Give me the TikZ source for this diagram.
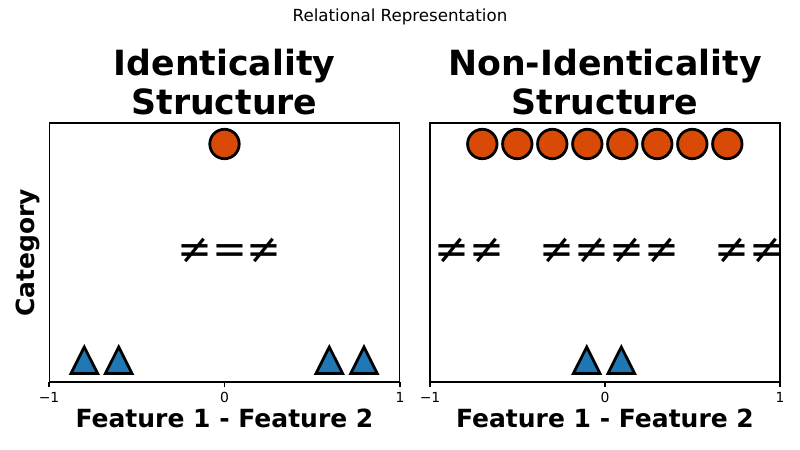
\documentclass[tikz,border=0pt]{standalone}
\usepackage{fontspec}
\setmainfont{DejaVu Sans}
\usetikzlibrary{positioning}

\definecolor{dotorange}{HTML}{D84A05}
\definecolor{triblue}{HTML}{1F77B4}

\begin{document}
\begin{tikzpicture}[
  x=0.72pt,y=-0.72pt,
  panel/.style={draw,line width=0.8pt,inner sep=0pt,
                minimum width=252pt,minimum height=186.5pt},
  dot/.style={circle,draw=black,line width=2pt,fill=dotorange,
              inner sep=0pt,minimum size=21.2pt},
  tri/.style={draw=black,line width=2pt,fill=triblue,line join=miter},
  tick/.style={line width=0.8pt},
  ticklbl/.style={font=\fontsize{10}{12}\selectfont,inner sep=0pt},
  neq/.style={font=\fontsize{30}{36}\selectfont,inner sep=0pt},
  ttl/.style={font=\fontsize{25}{28.4}\selectfont\bfseries,align=center,inner sep=0pt},
  axlbl/.style={font=\fontsize{18}{21}\selectfont\bfseries,inner sep=0pt},
]
\useasboundingbox (0,0) rectangle (800,450);

% --- axes frames ---
\node[panel] (axL) at (224.5,252.5) {};
\node[panel] (axR) at (605,252.5) {};

% --- suptitle and panel titles ---
\node[font=\fontsize{12}{14}\selectfont] (sup) at (400,17) {Relational Representation};
\node[ttl,above=5pt of axL] (ttlL) {Identicality\\Structure};
\node[ttl,above=5pt of axR] (ttlR) {Non-Identicality\\Structure};

% --- ticks and tick labels ---
\foreach \ax/\xa/\xb/\xc in {L/49/224.5/400,R/430/605/780} {
  \foreach \xv/\lb [count=\i] in {\xa/$-$1,\xb/0,\xc/1} {
    \coordinate (tk\ax\i) at (\xv,382);
    \draw[tick] (tk\ax\i) -- ++(0,4.9);
    \node[ticklbl,anchor=north] (tl\ax\i) at (\xv,392) {\ifnum\i=1 −1\else\ifnum\i=2 0\else 1\fi\fi};
  }
}

% --- axis labels ---
\node[axlbl,anchor=base] (xlL) at (224.5,427.5) {Feature 1 - Feature 2};
\node[axlbl,anchor=base] (xlR) at (605,427.5) {Feature 1 - Feature 2};
\node[axlbl,rotate=90,anchor=base] (ylL) at (34,253) {Category};

% --- left panel: one stacked circle, relations, triangles ---
\node[dot] (cL) at (224.5,144) {};
\node[neq] (relL) at (229.5,251) {≠=≠};
\foreach \xv [count=\i] in {84.3,118.7,329.3,364} {
  \draw[tri] (\xv,347) -- (\xv+13.3,373.5) -- (\xv-13.3,373.5) -- cycle;
}

% --- right panel: spread circles, relations, triangles ---
\foreach \xv [count=\i] in {482.3,517.3,552.3,587.3,622.3,657.3,692.3,727.3} {
  \node[dot] (cR\i) at (\xv,144) {};
}
\foreach \xv [count=\i] in {451.7,487.3,557.3,592.3,627.3,662.3,731.7,767.3} {
  \node[neq] (relR\i) at (\xv,251) {≠};
}
\foreach \xv [count=\i] in {586.7,621.3} {
  \draw[tri] (\xv,347) -- (\xv+13.3,373.5) -- (\xv-13.3,373.5) -- cycle;
}
\end{tikzpicture}
\end{document}
